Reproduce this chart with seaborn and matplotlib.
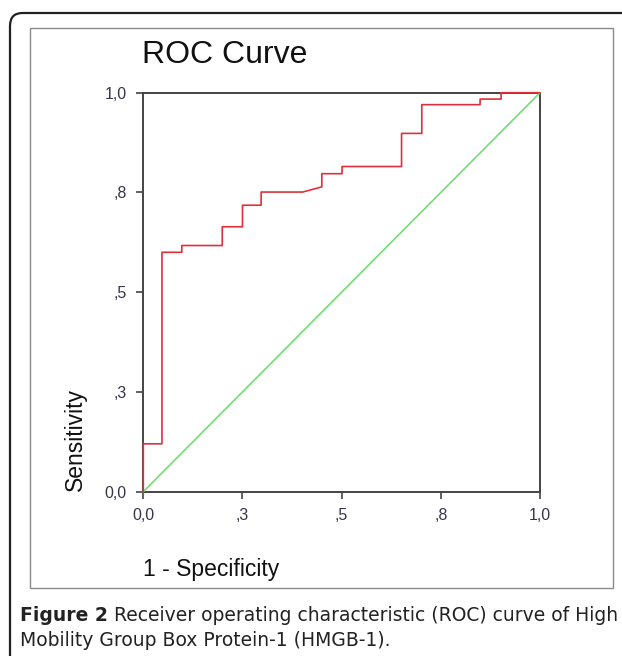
import matplotlib
matplotlib.use("Agg")
import matplotlib.pyplot as plt
from matplotlib.patches import FancyBboxPatch, Rectangle
import seaborn as sns
import pandas as pd

# ---- data ----
roc_fpr = [0.0, 0.0, 0.047, 0.047, 0.097, 0.097, 0.199, 0.199, 0.25, 0.25, 0.297, 0.297,
           0.402, 0.45, 0.45, 0.501, 0.501, 0.651, 0.651, 0.702, 0.702, 0.849, 0.849,
           0.902, 0.902, 1.0]
roc_tpr = [0.0, 0.12, 0.12, 0.60, 0.60, 0.617, 0.617, 0.664, 0.664, 0.718, 0.718, 0.751,
           0.751, 0.764, 0.797, 0.797, 0.815, 0.815, 0.898, 0.898, 0.970, 0.970, 0.984,
           0.984, 1.0, 1.0]
ref_x = [0.0, 1.0]
ref_y = [0.0, 1.0]
tick_vals = [0.0, 0.25, 0.5, 0.75, 1.0]
tick_labels = ["0,0", ",3", ",5", ",8", "1,0"]
title = "ROC Curve"
xlabel = "1 - Specificity"
ylabel = "Sensitivity"
caption_bold = "Figure 2"
caption_rest1 = " Receiver operating characteristic (ROC) curve of High"
caption_line2 = "Mobility Group Box Protein-1 (HMGB-1)."

sns.set_style("white")
plt.rcParams["font.family"] = ["Liberation Sans", "DejaVu Sans"]

W, H = 622, 656
fig = plt.figure(figsize=(W / 100, H / 100), dpi=100)
fig.patch.set_facecolor("white")

# outer rounded box
outer = FancyBboxPatch((10 / W, -0.2), 1.2, 1 - 13 / H + 0.2,
                       boxstyle="round,pad=0,rounding_size=0.02",
                       transform=fig.transFigure, fill=False,
                       edgecolor="#222222", linewidth=1.6)
fig.add_artist(outer)
# inner chart frame
inner = Rectangle((30 / W, 1 - 588 / H), (613 - 30) / W, (588 - 28) / H,
                  transform=fig.transFigure, fill=False,
                  edgecolor="#8a8a8a", linewidth=1.0)
fig.add_artist(inner)

ax = fig.add_axes([143.3 / W, 1 - 491.7 / H, 396.7 / W, 399 / H])
df_roc = pd.DataFrame({"fpr": roc_fpr, "tpr": roc_tpr})
df_ref = pd.DataFrame({"x": ref_x, "y": ref_y})
sns.lineplot(data=df_ref, x="x", y="y", ax=ax, color="#6fe06f", linewidth=1.2,
             sort=False, estimator=None)
sns.lineplot(data=df_roc, x="fpr", y="tpr", ax=ax, color="#e0303c", linewidth=1.2,
             sort=False, estimator=None)
for ln in ax.lines:
    ln.set_clip_on(False)
    ln.set_zorder(3)

ax.set_xlim(0, 1)
ax.set_ylim(0, 1)
ax.set_xticks(tick_vals)
ax.set_xticklabels(tick_labels)
ax.set_yticks(tick_vals)
ax.set_yticklabels(tick_labels)
ax.tick_params(axis="both", direction="out", length=5, width=1.2, color="#444444",
               labelsize=11.5, labelcolor="#38344a", pad=7, bottom=True, left=True)
for lbl in ax.get_xticklabels() + ax.get_yticklabels():
    lbl.set_family(["Liberation Sans", "DejaVu Sans"])
for s in ax.spines.values():
    s.set_color("#444444")
    s.set_linewidth(1.4)
ax.set_xlabel("")
ax.set_ylabel("")

fig.text(142 / W, 1 - 63 / H, title, fontsize=23, color="#111111", ha="left", va="baseline")
fig.text(143 / W, 1 - 576 / H, xlabel, fontsize=16.5, color="#111111", ha="left", va="baseline")
fig.text(75 / W, 1 - 491 / H, ylabel, fontsize=16.5, color="#111111", rotation=90,
         ha="center", va="bottom")

cap_font = ["DejaVu Sans"]
cap_size = 12.0
tb = fig.text(20 / W, 1 - 621 / H, caption_bold, fontsize=cap_size, fontweight="bold",
              family=cap_font, color="#222222", ha="left", va="baseline")
tr = fig.text(0, 1 - 621 / H, caption_rest1, fontsize=cap_size, family=cap_font,
              color="#222222", ha="left", va="baseline")
tl2 = fig.text(20 / W, 1 - 646 / H, caption_line2, fontsize=cap_size, family=cap_font,
               color="#222222", ha="left", va="baseline")
# fit first caption line to the target width (x 20 -> 615 px)
fig.canvas.draw()
r = fig.canvas.get_renderer()
w_total = tb.get_window_extent(r).width + tr.get_window_extent(r).width
scale = (615 - 20) / w_total
for t in (tb, tr, tl2):
    t.set_fontsize(cap_size * scale)
fig.canvas.draw()
bb = tb.get_window_extent(r)
tr.set_x(bb.x1 / W)

fig.savefig("out.png", dpi=100)
